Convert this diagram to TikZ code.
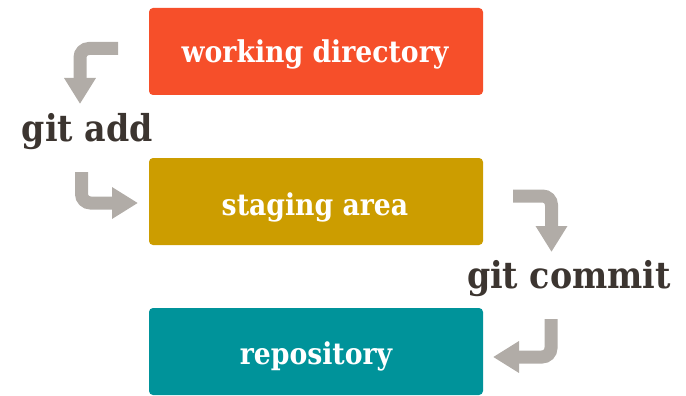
\documentclass[tikz,border=0pt]{standalone}
\usepackage{fontspec}
\setmainfont{DejaVu Serif}[FakeStretch=0.89]
\newfontfamily\cmdfont{DejaVu Serif}[FakeStretch=0.9]
\usetikzlibrary{arrows.meta}
\definecolor{wdcol}{HTML}{F64F2A}
\definecolor{stcol}{HTML}{CC9D00}
\definecolor{rpcol}{HTML}{00939A}
\definecolor{txtcol}{HTML}{3C3530}
\definecolor{arrcol}{HTML}{B1ACA7}
\tikzset{
  areabox/.style={rounded corners=4pt, minimum width=334pt, minimum height=87pt, inner sep=0pt},
  arealabel/.style={text=white, inner sep=0pt, anchor=base, font=\fontsize{30}{34}\selectfont\bfseries},
  cmdlabel/.style={text=txtcol, inner sep=0pt, anchor=base, font=\cmdfont\fontsize{37}{40}\selectfont\bfseries},
  flowarrow/.style={draw=arrcol, line width=13pt, rounded corners=9pt,
    -{Triangle[width=30pt,length=26pt]}},
}
\begin{document}
\begin{tikzpicture}[x=1pt,y=-1pt]
\useasboundingbox (0,0) rectangle (686,396);
\node[areabox, fill=wdcol] (wd) at (316,51.5) {};
\node[areabox, fill=stcol] (st) at (316,201.5) {};
\node[areabox, fill=rpcol] (rp) at (316,351.5) {};
\node[arealabel] (wdl) at (315,63) {working directory};
\node[arealabel] (stl) at (315,215) {staging area};
\node[arealabel] (rpl) at (316,364) {repository};
\node[cmdlabel] (add) at (87.5,142) {git add};
\node[cmdlabel] (commit) at (569,288) {git commit};
\coordinate (a1s) at (118,48.5);
\coordinate (a1e) at (80,104);
\coordinate (a2s) at (81.5,172);
\coordinate (a2e) at (138,203);
\coordinate (c1s) at (513,196);
\coordinate (c1e) at (551.5,252);
\coordinate (c2s) at (551,319);
\coordinate (c2e) at (493,357);
\draw[flowarrow] (a1s) -| (a1e);
\draw[flowarrow] (a2s) |- (a2e);
\draw[flowarrow] (c1s) -| (c1e);
\draw[flowarrow] (c2s) |- (c2e);
\end{tikzpicture}
\end{document}
